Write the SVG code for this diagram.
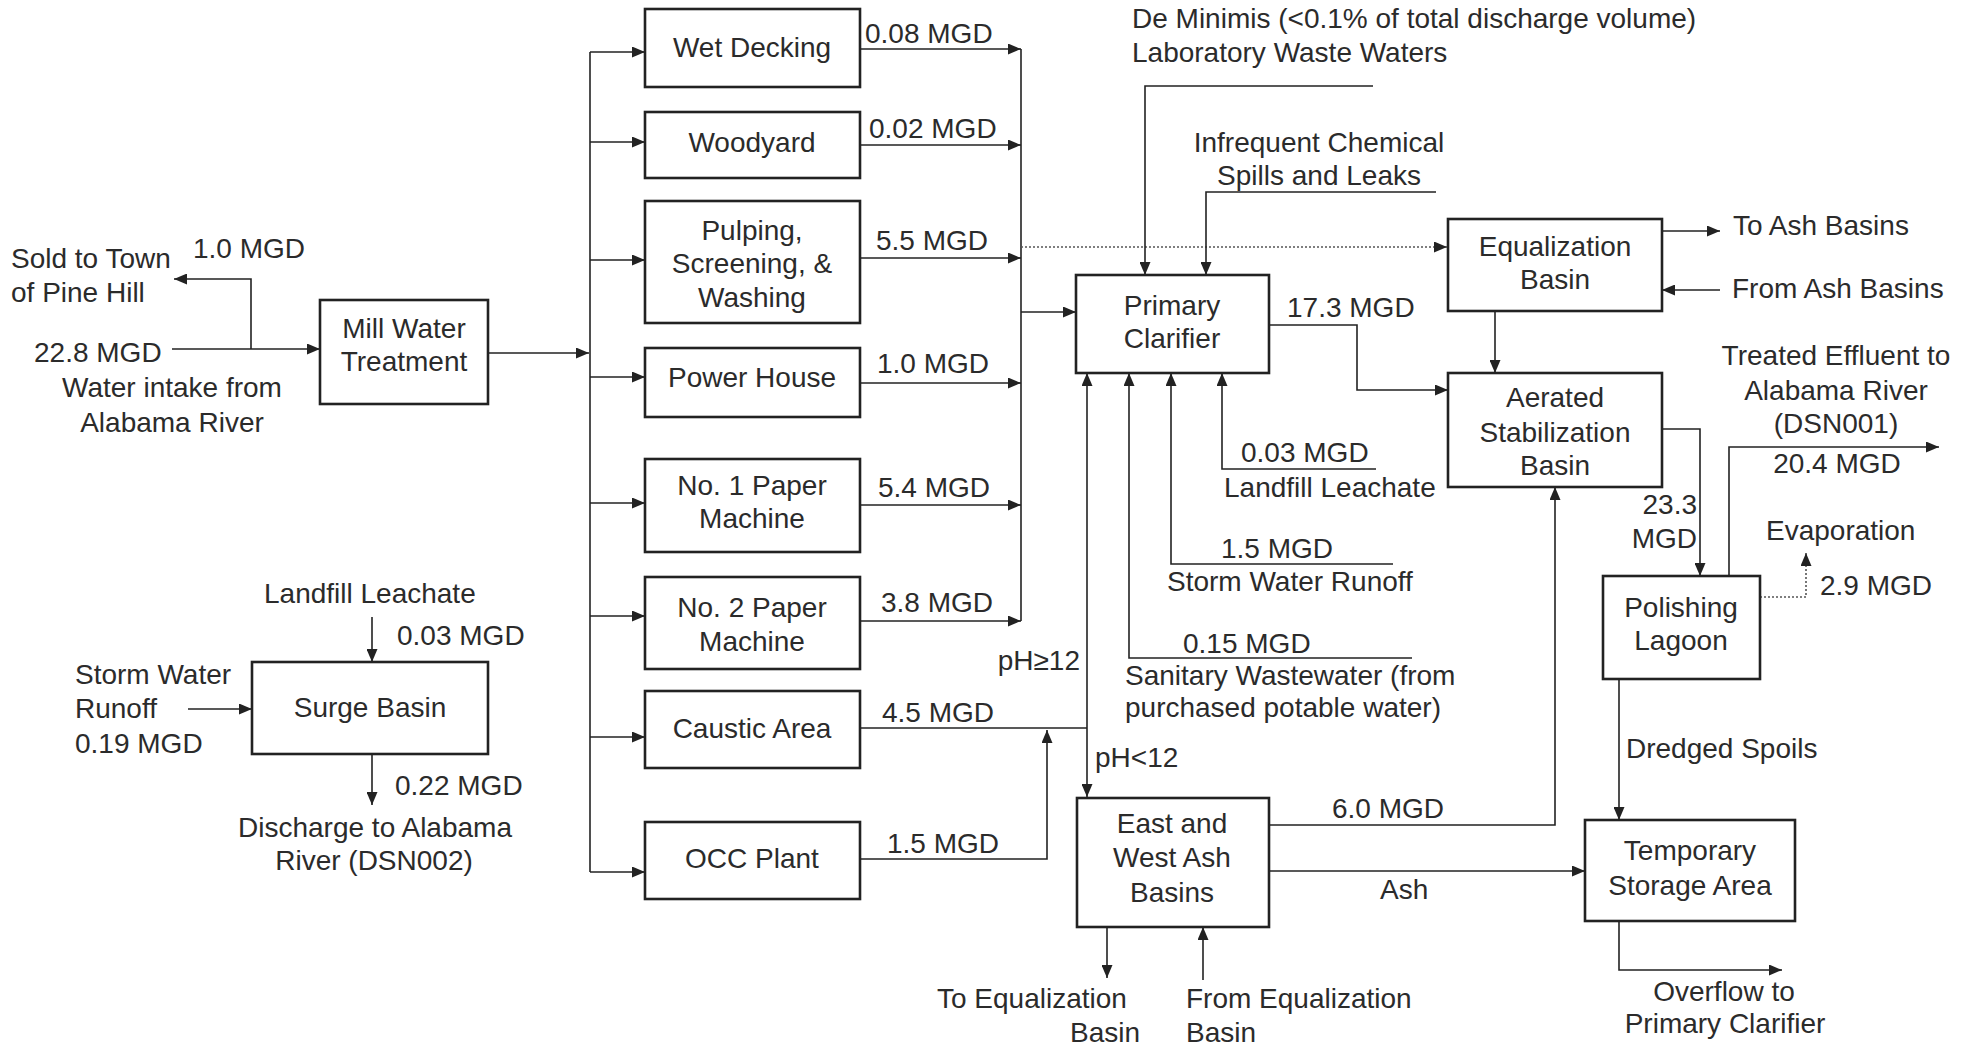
<svg xmlns="http://www.w3.org/2000/svg" width="1982" height="1045" viewBox="0 0 1982 1045">
<defs>
<marker id="arr" viewBox="0 0 13 11" refX="13" refY="5.5" markerWidth="13" markerHeight="11" markerUnits="userSpaceOnUse" orient="auto">
<path d="M0,0 L13,5.5 L0,11 z" fill="#222"/>
</marker>
<style>
text{font-family:"Liberation Sans",Arial,sans-serif;font-size:28px;fill:#2b2b2b}
.m{text-anchor:middle}
.e{text-anchor:end}
.box{fill:none;stroke:#222;stroke-width:2.6}
.c{fill:none;stroke:#222;stroke-width:1.6;marker-end:url(#arr)}
.l{fill:none;stroke:#222;stroke-width:1.6}
.d{fill:none;stroke:#555;stroke-width:1.6;stroke-dasharray:2 2;marker-end:url(#arr)}
</style>
</defs>
<rect width="1982" height="1045" fill="#fff"/>

<g id="connectors">
<path class="c" d="M172,349 H320"/>
<path class="c" d="M251,349 V279 H174"/>
<path class="c" d="M488,353 H589"/>
<path class="l" d="M590,52 V872"/>
<path class="c" d="M590,52 H645"/>
<path class="c" d="M590,142 H645"/>
<path class="c" d="M590,260 H645"/>
<path class="c" d="M590,377 H645"/>
<path class="c" d="M590,503 H645"/>
<path class="c" d="M590,616 H645"/>
<path class="c" d="M590,737 H645"/>
<path class="c" d="M590,872 H645"/>
<path class="c" d="M860,49 H1021"/>
<path class="c" d="M860,145 H1021"/>
<path class="c" d="M860,258 H1021"/>
<path class="c" d="M860,383 H1021"/>
<path class="c" d="M860,505 H1021"/>
<path class="c" d="M860,621 H1021"/>
<path class="l" d="M1021,49 V621"/>
<path class="c" d="M1021,312 H1076"/>
<path class="d" d="M1021,247 H1447"/>
<path class="l" d="M860,728 H1087"/>
<path class="c" d="M1087,728 V373"/>
<path class="c" d="M1087,728 V797"/>
<path class="c" d="M860,859 H1047 V730"/>
<path class="c" d="M1373,86 H1145 V275"/>
<path class="c" d="M1436,192 H1206 V275"/>
<path class="c" d="M1376,469 H1222 V373"/>
<path class="c" d="M1393,564 H1171 V373"/>
<path class="c" d="M1412,658 H1129 V373"/>
<path class="c" d="M1269,325 H1357 V390 H1448"/>
<path class="c" d="M1495,311 V373"/>
<path class="c" d="M1662,231 H1720"/>
<path class="c" d="M1720,290 H1662"/>
<path class="c" d="M1662,429 H1700 V576"/>
<path class="c" d="M1729,576 V447 H1939"/>
<path class="d" d="M1760,597 H1806 V553"/>
<path class="c" d="M1619,679 V820"/>
<path class="c" d="M1619,921 V970 H1782"/>
<path class="c" d="M1269,825 H1555 V487"/>
<path class="c" d="M1269,871 H1585"/>
<path class="c" d="M1107,927 V978"/>
<path class="c" d="M1203,980 V927"/>
<path class="c" d="M372,617 V662"/>
<path class="c" d="M188,709 H252"/>
<path class="c" d="M372,754 V805"/>
</g>

<g id="labels">
<text x="11" y="268">Sold to Town</text>
<text x="11" y="302">of Pine Hill</text>
<text x="193" y="258">1.0 MGD</text>
<text x="34" y="362">22.8 MGD</text>
<text class="m" x="172" y="397">Water intake from</text>
<text class="m" x="172" y="432">Alabama River</text>
<text x="264" y="603">Landfill Leachate</text>
<text x="397" y="645">0.03 MGD</text>
<text x="75" y="684">Storm Water</text>
<text x="75" y="718">Runoff</text>
<text x="75" y="753">0.19 MGD</text>
<text x="395" y="795">0.22 MGD</text>
<text class="m" x="375" y="837">Discharge to Alabama</text>
<text class="m" x="374" y="870">River (DSN002)</text>
<text x="865" y="43">0.08 MGD</text>
<text x="869" y="138">0.02 MGD</text>
<text x="876" y="250">5.5 MGD</text>
<text x="877" y="373">1.0 MGD</text>
<text x="878" y="497">5.4 MGD</text>
<text x="881" y="612">3.8 MGD</text>
<text x="882" y="722">4.5 MGD</text>
<text x="887" y="853">1.5 MGD</text>
<text class="e" x="1080" y="670">pH≥12</text>
<text x="1095" y="767">pH&lt;12</text>
<text x="1132" y="28">De Minimis (&lt;0.1% of total discharge volume)</text>
<text x="1132" y="62">Laboratory Waste Waters</text>
<text class="m" x="1319" y="152">Infrequent Chemical</text>
<text class="m" x="1319" y="185">Spills and Leaks</text>
<text x="1287" y="317">17.3 MGD</text>
<text x="1241" y="462">0.03 MGD</text>
<text x="1224" y="497">Landfill Leachate</text>
<text x="1221" y="558">1.5 MGD</text>
<text x="1167" y="591">Storm Water Runoff</text>
<text x="1183" y="653">0.15 MGD</text>
<text x="1125" y="685">Sanitary Wastewater (from</text>
<text x="1125" y="717">purchased potable water)</text>
<text x="1332" y="818">6.0 MGD</text>
<text x="1380" y="899">Ash</text>
<text x="937" y="1008">To Equalization</text>
<text x="1070" y="1042">Basin</text>
<text x="1186" y="1008">From Equalization</text>
<text x="1186" y="1042">Basin</text>
<text x="1733" y="235">To Ash Basins</text>
<text x="1732" y="298">From Ash Basins</text>
<text class="m" x="1836" y="365">Treated Effluent to</text>
<text class="m" x="1836" y="400">Alabama River</text>
<text class="m" x="1836" y="433">(DSN001)</text>
<text class="m" x="1837" y="473">20.4 MGD</text>
<text class="e" x="1697" y="514">23.3</text>
<text class="e" x="1697" y="548">MGD</text>
<text x="1766" y="540">Evaporation</text>
<text x="1820" y="595">2.9 MGD</text>
<text x="1626" y="758">Dredged Spoils</text>
<text class="m" x="1724" y="1001">Overflow to</text>
<text class="m" x="1725" y="1033">Primary Clarifier</text>
</g>

<g id="mill-water-treatment"><rect class="box" x="320" y="300" width="168" height="104"/><text class="m" x="404" y="338">Mill Water</text><text class="m" x="404" y="371">Treatment</text></g>
<g id="surge-basin"><rect class="box" x="252" y="662" width="236" height="92"/><text class="m" x="370" y="717">Surge Basin</text></g>
<g id="wet-decking"><rect class="box" x="645" y="9" width="215" height="78"/><text class="m" x="752" y="57">Wet Decking</text></g>
<g id="woodyard"><rect class="box" x="645" y="112" width="215" height="66"/><text class="m" x="752" y="152">Woodyard</text></g>
<g id="pulping"><rect class="box" x="645" y="201" width="215" height="122"/><text class="m" x="752" y="240">Pulping,</text><text class="m" x="752" y="273">Screening, &amp;</text><text class="m" x="752" y="307">Washing</text></g>
<g id="power-house"><rect class="box" x="645" y="348" width="215" height="69"/><text class="m" x="752" y="387">Power House</text></g>
<g id="paper-machine-1"><rect class="box" x="645" y="459" width="215" height="93"/><text class="m" x="752" y="495">No. 1 Paper</text><text class="m" x="752" y="528">Machine</text></g>
<g id="paper-machine-2"><rect class="box" x="645" y="577" width="215" height="92"/><text class="m" x="752" y="617">No. 2 Paper</text><text class="m" x="752" y="651">Machine</text></g>
<g id="caustic-area"><rect class="box" x="645" y="691" width="215" height="77"/><text class="m" x="752" y="738">Caustic Area</text></g>
<g id="occ-plant"><rect class="box" x="645" y="822" width="215" height="77"/><text class="m" x="752" y="868">OCC Plant</text></g>
<g id="primary-clarifier"><rect class="box" x="1076" y="275" width="193" height="98"/><text class="m" x="1172" y="315">Primary</text><text class="m" x="1172" y="348">Clarifier</text></g>
<g id="ash-basins"><rect class="box" x="1077" y="798" width="192" height="129"/><text class="m" x="1172" y="833">East and</text><text class="m" x="1172" y="867">West Ash</text><text class="m" x="1172" y="902">Basins</text></g>
<g id="equalization-basin"><rect class="box" x="1448" y="219" width="214" height="92"/><text class="m" x="1555" y="256">Equalization</text><text class="m" x="1555" y="289">Basin</text></g>
<g id="aerated-stabilization-basin"><rect class="box" x="1448" y="373" width="214" height="114"/><text class="m" x="1555" y="407">Aerated</text><text class="m" x="1555" y="442">Stabilization</text><text class="m" x="1555" y="475">Basin</text></g>
<g id="polishing-lagoon"><rect class="box" x="1603" y="576" width="157" height="103"/><text class="m" x="1681" y="617">Polishing</text><text class="m" x="1681" y="650">Lagoon</text></g>
<g id="temporary-storage-area"><rect class="box" x="1585" y="820" width="210" height="101"/><text class="m" x="1690" y="860">Temporary</text><text class="m" x="1690" y="895">Storage Area</text></g>
</svg>
